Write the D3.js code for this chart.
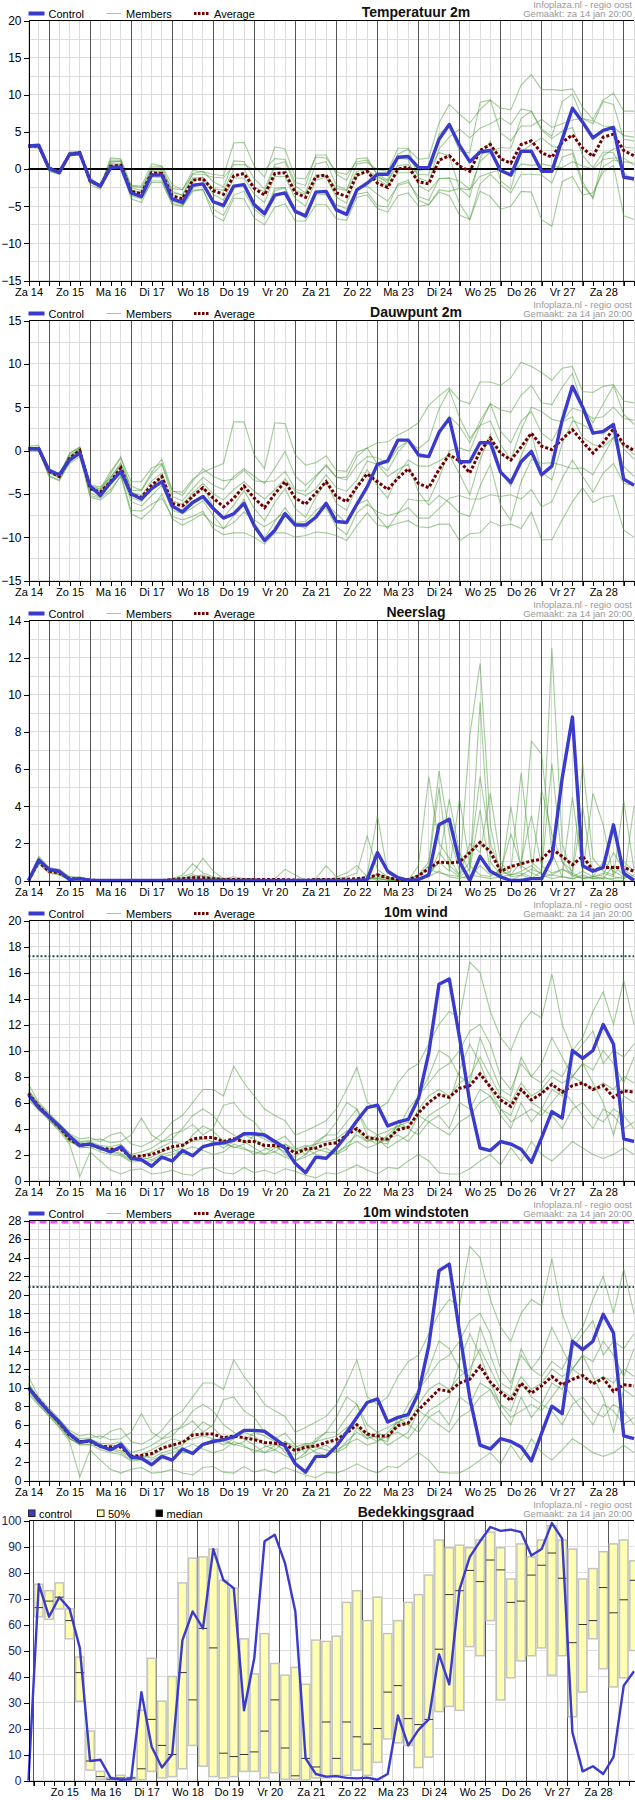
<!DOCTYPE html>
<html>
<head>
<meta charset="utf-8">
<script src="https://cdnjs.cloudflare.com/ajax/libs/d3/7.8.5/d3.min.js"></script>
<style>
  body { margin: 0; background: #fff; }
  svg text { font-family: "Liberation Sans", Arial, sans-serif; }
</style>
</head>
<body>
<svg id="chart"></svg>
<script>
// ---- time axis: 6-hourly steps from Za 14 12:00 ----
const steps = d3.range(60);
const dayLabels = ["Za 14","Zo 15","Ma 16","Di 17","Wo 18","Do 19","Vr 20","Za 21","Zo 22","Ma 23","Di 24","Wo 25","Do 26","Vr 27","Za 28"];

// ---- Temperatuur 2m ----
const tempControl = [3.1,3.2,0.1,-0.5,2.0,2.1,-1.5,-2.3,0.2,0.3, -3.2,-3.7,-0.8,-0.8,-4.0,-4.5,-2.2,-2.0,-4.4,-4.9, -2.3,-2.1,-4.8,-6.0,-3.5,-3.2,-5.7,-6.3,-3.1,-3.0, -5.5,-6.1,-2.8,-1.9,-0.7,-0.7,1.6,1.7,0.2,0.2, 4.0,6.0,3.2,1.0,2.3,2.5,-0.2,-0.8,2.4,2.4, -0.3,-0.3,4.0,8.2,6.3,4.2,5.2,5.6,-1.1,-1.3];
const tempAverage = [3.1,3.1,0.1,-0.4,2.0,2.2,-1.6,-2.3,0.4,0.5, -3.0,-3.3,-0.5,-0.6,-3.6,-4.0,-1.5,-1.3,-2.9,-3.4, -0.9,-0.6,-2.6,-3.5,-0.6,-0.5,-3.2,-3.8,-1.0,-0.8, -3.2,-3.7,-0.8,-0.3,-1.9,-2.5,0.0,0.3,-1.7,-2.0, 1.2,1.8,0.4,-0.3,2.5,3.3,1.4,0.8,3.3,3.8, 2.2,1.6,3.6,4.6,2.8,1.7,4.3,4.7,2.5,1.8];
const tempMembers = [
  [3.2,3.3,0.3,-0.3,2.3,2.4,-1.5,-2.3,1.5,1.4, -2.2,-2.3,0.7,0.4,-2.1,-2.8,-0.2,-0.4,-0.7,-0.9, 3.5,3.6,0.4,-1.1,3.0,2.7,-1.2,-1.3,1.6,1.5, -0.4,-0.7,1.0,1.2,-0.7,-1.5,2.0,2.7,1.3,1.5, 6.2,8.7,7.4,6.2,8.0,9.3,8.2,8.0,11.3,12.7, 10.7,10.7,10.6,10.8,8.3,6.7,9.3,10.2,7.8,7.8],
  [2.9,2.8,-0.3,-0.7,1.7,2.0,-2.1,-2.7,0.0,0.2, -3.6,-4.0,-1.8,-1.8,-4.6,-5.0,-3.0,-2.7,-6.2,-7.0, -3.9,-4.0,-6.6,-7.5,-5.1,-4.7,-7.0,-7.0,-4.8,-4.8, -6.7,-6.9,-3.8,-3.5,-5.3,-5.8,-3.6,-3.2,-5.0,-4.8, -3.1,-3.6,-6.2,-6.8,-3.0,-3.7,-5.4,-5.0,-3.0,-3.1, -6.8,-7.7,-1.7,-1.0,-3.5,-3.2,-0.4,0.5,-6.3,-6.8],
  [3.1,3.2,0.2,-0.2,2.0,2.3,-1.3,-2.1,1.0,1.0, -2.5,-2.9,0.3,0.3,-3.0,-3.5,-0.6,-0.3,-1.7,-2.4, 1.1,1.0,-1.3,-2.7,0.6,1.0,-2.3,-3.2,0.7,1.0, -2.2,-2.8,0.7,0.9,-0.1,-0.3,2.8,2.8,-1.2,-1.7, 2.7,4.3,5.4,4.2,5.5,6.1,6.9,6.0,8.1,7.8, 5.4,4.4,9.1,10.1,6.8,6.1,9.1,8.7,4.0,3.8],
  [3.2,3.1,0.0,-0.6,2.1,2.2,-1.8,-2.4,0.7,0.7, -3.3,-3.7,-1.0,-1.2,-4.3,-4.8,-2.0,-1.9,-4.4,-5.2, -2.4,-1.9,-4.6,-5.9,-2.6,-2.5,-5.5,-6.4,-3.0,-3.0, -4.8,-5.3,-2.6,-2.3,-3.4,-4.3,-2.2,-1.8,-3.7,-4.2, -1.3,-1.2,-1.6,-2.7,-1.0,-0.5,-0.1,-1.0,0.7,0.5, 0.7,0.4,0.2,1.0,0.4,0.0,1.3,1.5,1.5,0.5],
  [3.0,3.1,0.1,-0.3,1.9,2.0,-1.5,-2.1,0.4,0.6, -2.8,-3.2,-0.2,-0.4,-3.2,-3.5,-1.2,-1.1,-2.6,-2.9, -0.1,0.0,-2.4,-3.1,0.3,0.0,-2.9,-3.4,-0.8,-0.8, -2.6,-2.9,-0.3,-0.1,-1.1,-1.6,0.5,0.6,-0.7,-0.8, 4.7,5.8,2.4,2.2,9.0,9.3,4.9,3.8,5.8,5.8, 6.7,5.6,6.1,6.6,6.8,6.5,5.8,5.7,4.5,4.3],
  [3.3,3.2,0.3,-0.3,2.2,2.3,-1.6,-2.2,0.2,0.4, -4.0,-4.5,-1.6,-1.6,-4.8,-5.0,-2.8,-2.8,-5.4,-6.2, -3.5,-3.0,-5.4,-6.5,-2.9,-2.5,-5.7,-6.6,-3.5,-3.4, -5.4,-6.1,-3.4,-3.1,-4.9,-5.1,-2.0,-1.5,-4.2,-4.8, -2.8,-3.0,-2.6,-2.8,1.0,2.3,2.9,2.8,6.8,7.8, 5.2,4.1,5.1,5.6,1.8,0.2,2.3,2.2,-0.5,-1.7],
  [2.9,2.9,-0.2,-0.6,1.8,1.9,-1.8,-2.5,0.9,1.1, -2.3,-2.5,0.0,-0.2,-2.6,-2.8,-0.7,-0.7,-1.1,-1.2, 0.6,0.6,-0.1,-0.1,1.4,1.3,-1.8,-2.2,1.9,1.9, -0.7,-1.5,1.4,1.5,-0.9,-1.9,1.5,1.3,-2.2,-3.0, -1.3,-1.2,-4.6,-6.8,-2.0,-0.7,-2.1,-3.2,-0.7,-0.7, -0.8,-1.9,1.6,2.1,-2.2,-3.8,0.3,1.2,1.0,0.8],
  [3.1,3.2,0.0,-0.4,2.1,2.4,-1.7,-2.2,1.2,1.2, -3.0,-3.5,-0.3,-0.6,-3.9,-4.2,-1.5,-1.2,-3.4,-4.2, -1.2,-1.2,-3.4,-4.5,-1.0,-1.0,-4.0,-5.0,-1.5,-1.1, -3.8,-4.6,-1.0,-0.3,-1.4,-2.2,-0.5,-0.5,-0.2,0.0, 2.2,1.8,-2.6,-3.8,1.5,3.8,-1.6,-2.7,2.3,3.3, 4.2,3.1,2.6,2.6,-1.7,-4.0,1.8,2.7,3.0,2.8]
];

// ---- Dauwpunt 2m ----
const dewControl = [0.2,0.2,-2.3,-2.8,-1.1,-0.3,-4.1,-5.2,-3.7,-2.4, -5.0,-5.6,-4.4,-3.6,-6.4,-7.1,-6.0,-5.3,-6.7,-7.8, -7.3,-6.1,-8.7,-10.4,-9.2,-7.3,-8.6,-8.6,-7.7,-6.1, -8.2,-8.3,-6.2,-4.2,-1.6,-1.2,1.2,1.2,-0.5,-0.7, 2.1,3.7,-1.3,-1.3,0.9,0.9,-2.5,-3.7,-1.3,-0.1, -2.8,-1.8,3.5,7.4,5.0,2.0,2.2,3.0,-3.3,-4.0];
const dewAverage = [0.2,0.2,-2.4,-3.0,-0.9,0.0,-4.4,-4.8,-3.6,-2.0, -5.1,-5.4,-4.0,-3.0,-6.1,-6.4,-5.3,-4.3,-5.5,-6.5, -5.5,-4.1,-5.5,-6.6,-5.0,-3.6,-5.5,-6.2,-4.9,-3.6, -5.3,-5.9,-4.2,-2.7,-3.6,-4.5,-3.2,-2.1,-3.8,-4.3, -2.2,-0.5,-1.2,-2.6,-0.1,1.4,-0.3,-1.1,0.4,2.0, 0.5,0.1,1.3,2.4,1.0,-0.3,0.9,2.5,0.7,0.0];
const dewMembers = [
  [0.5,0.6,-2.2,-3.0,-0.3,0.4,-4.1,-4.4,-2.4,-0.9, -3.6,-3.6,-2.0,-1.5,-4.7,-4.8,-3.3,-2.5,-2.0,-1.5, 3.3,3.3,-0.5,-2.1,3.2,3.1,-0.5,-1.7,-1.4,-0.6, -2.3,-2.4,-0.2,0.3,0.9,1.0,1.8,2.4,3.2,5.2, 6.3,7.2,5.8,5.4,7.9,7.9,7.5,8.4,10.2,9.7, 9.0,8.1,9.5,9.7,6.8,6.7,7.4,7.6,5.7,5.5],
  [-0.1,0.0,-2.9,-3.4,-1.5,-0.7,-5.4,-5.7,-4.8,-2.8, -6.9,-7.0,-6.2,-5.5,-7.6,-8.0,-7.6,-7.0,-9.0,-9.7, -9.5,-9.5,-10.0,-10.8,-9.5,-9.5,-10.0,-9.8,-9.4,-9.5, -9.8,-10.4,-8.7,-7.2,-8.6,-8.8,-8.4,-8.1,-8.8,-8.9, -8.5,-8.5,-10.4,-9.6,-9.5,-8.2,-8.7,-8.5,-9.0,-7.1, -10.3,-10.3,-8.0,-5.9,-4.3,-6.0,-5.4,-5.2,-9.2,-10.0],
  [0.3,0.4,-2.3,-2.7,-0.6,0.2,-4.0,-4.2,-3.1,-1.6, -4.1,-4.6,-2.8,-1.6,-5.3,-5.8,-4.4,-3.1,-4.0,-4.5, -3.0,-2.1,-3.0,-3.8,-2.0,-0.1,-3.0,-4.0,-2.9,-1.8, -3.1,-3.4,-1.7,-0.7,-0.8,-1.5,0.3,1.1,-0.8,-0.8, 1.8,4.0,2.8,0.9,3.4,5.4,4.7,4.4,6.4,7.5, 5.5,5.3,7.3,8.9,5.0,3.2,5.4,7.5,4.2,3.0],
  [0.2,0.1,-2.4,-3.2,-1.2,-0.2,-4.9,-5.4,-3.9,-2.5, -5.9,-6.4,-5.2,-4.0,-6.9,-7.3,-6.6,-5.8,-7.5,-9.0, -8.3,-7.1,-8.0,-8.8,-8.0,-7.1,-8.5,-9.0,-7.4,-6.6, -8.8,-9.7,-7.2,-6.2,-7.1,-7.5,-7.2,-6.6,-7.8,-7.8, -6.7,-5.5,-5.2,-5.6,-5.6,-5.1,-5.3,-5.1,-5.6,-4.5, -6.5,-5.9,-3.2,-1.1,-3.0,-4.8,-2.6,-1.5,-3.8,-4.0],
  [0.4,0.3,-2.1,-2.8,-0.4,0.4,-4.2,-4.5,-3.1,-1.4, -4.8,-5.2,-3.5,-2.6,-5.8,-6.2,-4.9,-3.8,-5.0,-5.7, -4.5,-3.6,-4.7,-5.6,-4.5,-3.3,-4.7,-5.2,-4.4,-2.8, -4.3,-4.7,-3.4,-1.2,-1.6,-2.3,-0.2,1.1,0.2,1.2, 4.8,7.0,3.8,1.4,2.9,5.4,2.2,0.9,3.4,4.5, 2.0,1.1,3.3,4.9,4.5,3.7,3.9,5.0,3.7,3.5],
  [0.0,-0.1,-3.0,-3.5,-1.3,-0.2,-5.2,-5.5,-4.5,-3.0, -7.3,-7.9,-6.8,-5.0,-7.9,-8.6,-8.0,-7.3,-8.5,-9.0, -7.5,-5.6,-8.3,-10.1,-8.2,-6.6,-8.3,-8.2,-6.9,-6.1, -7.3,-8.4,-6.2,-5.7,-7.6,-9.0,-7.2,-5.6,-5.8,-5.8, -3.2,0.0,0.3,-0.1,2.9,3.4,0.7,-1.1,2.4,5.0, 4.5,3.6,3.3,3.9,1.5,0.7,0.4,1.5,0.7,-0.5],
  [0.1,0.2,-2.6,-3.1,-0.8,0.3,-4.2,-4.7,-2.7,-0.7, -4.6,-4.6,-2.5,-1.0,-4.6,-5.2,-3.5,-2.1,-3.0,-3.5, -3.3,-2.3,-3.5,-3.6,-3.5,-2.4,-4.5,-4.7,-3.1,-1.6, -3.1,-3.1,-0.7,0.3,-1.6,-3.0,-2.2,-1.6,-4.8,-6.3, -5.2,-6.0,-7.2,-7.6,-4.1,-1.6,-6.3,-8.1,-3.6,-1.0, -1.5,-1.4,-1.7,-2.1,-2.0,-2.8,-0.6,1.5,-1.8,-3.0],
  [0.3,0.3,-2.2,-3.0,-1.0,0.1,-4.6,-4.8,-3.3,-1.8, -5.4,-5.9,-4.2,-3.0,-6.5,-6.9,-5.3,-4.1,-6.5,-7.7, -6.3,-4.6,-6.7,-8.1,-6.0,-4.4,-6.7,-7.7,-5.4,-3.6, -6.1,-6.9,-4.2,-2.2,-4.1,-5.5,-2.7,-1.1,-1.8,-1.8, -1.2,-0.5,-2.7,-5.1,-1.1,1.9,-2.3,-4.1,-0.6,2.0, -2.5,-3.4,0.8,3.4,3.0,2.2,1.9,3.0,0.2,-1.0]
];

// ---- Neerslag ----
const rainControl = [0,1.1,0.6,0.5,0.05,0.1,0.02,0,0,0, 0,0,0,0,0,0,0,0,0,0, 0,0,0,0,0,0,0,0,0,0, 0,0,0,0.05,1.5,0.5,0.15,0,0.05,0.3, 3.0,3.3,1.0,0,1.3,0.5,0.2,0,0,0.1, 0.1,1.2,5.5,8.8,0.8,0.5,0.7,3.0,0.4,0];
const rainAverage = [0,1.0,0.5,0.4,0.1,0.1,0.02,0,0,0, 0,0,0,0,0.05,0.1,0.15,0.15,0.1,0.05, 0.05,0.05,0.05,0.05,0.05,0.05,0.02,0.02,0.05,0.05, 0.05,0.07,0.1,0.15,0.3,0.15,0.05,0.05,0.25,0.65, 1.0,0.95,1.0,1.5,2.05,1.55,0.5,0.75,0.9,1.05, 1.15,1.7,1.3,0.85,1.3,0.55,0.7,0.7,0.7,0.5];
const rainMembers = [
  [0,1.3,0.7,0.6,0.2,0.2,0,0,0,0, 0,0,0,0,0.1,0.3,0.9,0.4,0.2,0.1, 0,0,0,0,0,0,0,0,0.1,0.1, 0,0.2,0.4,2.4,0.6,0.2,0,0,0.8,5.6, 2.0,1.2,0.3,1.0,5.6,2.0,0.5,0.3,1.0,3.5, 0.8,0.4,0.6,0.3,4.0,0.2,0.3,1.5,0.6,0.2],
  [0,0.9,0.4,0.3,0,0.1,0,0,0,0, 0,0,0,0,0,0,0.2,0.1,0,0, 0,0.1,0.1,0,0,0,0,0,0,0, 0,0,0,0,0.2,0,0,0.1,0.3,1.0, 5.9,2.5,0.5,7.8,11.7,3.0,0.2,0,0.3,0.1, 0.5,12.5,2.0,0.3,0.1,0.2,0.4,0.2,0.1,0.3],
  [0,1.2,0.6,0.4,0.1,0,0,0,0,0, 0,0,0,0,0,0.2,0.4,1.2,0.5,0.1, 0.1,0,0,0,0,0,0,0,0,0, 0.1,0,0,0.3,3.5,0.4,0.1,0,0,0.3, 1.0,4.4,1.5,0.5,9.6,1.0,0.3,0.5,5.8,1.0, 0.5,6.3,1.0,0.2,0.5,0.2,0.1,0.8,0.3,0.1],
  [0,1.0,0.5,0.5,0.2,0.1,0.05,0,0,0, 0,0,0,0,0,0,0,0,0,0, 0,0,0,0,0.1,0.6,0.3,0,0,0, 0.2,0.4,0.8,0.2,0,0.1,0,0,0.3,0.6, 0.4,0.3,0.2,0.6,3.8,0.5,0.1,4.0,0.6,7.5, 6.8,1.5,0.2,0.1,0.3,0.1,0.2,0,0,4.0],
  [0,1.1,0.6,0.3,0.1,0.1,0,0,0,0, 0,0,0,0,0.1,0.1,0.3,0.2,0.1,0.1, 0.2,0.1,0.1,0,0,0,0,0,0,0, 0,0,0,0,0.4,0.1,0,0,0,0.2, 1.5,0.8,0.3,2.0,1.5,4.7,1.0,0.3,0.4,0.2, 4.9,2.5,1.0,0.5,6.3,1.2,0.5,0.3,1.0,0.5],
  [0,0.9,0.4,0.4,0.1,0.1,0,0,0,0, 0,0,0,0,0,0,0.1,0.1,0.1,0, 0,0,0,0,0,0,0,0,0.1,0.8, 0.2,0.1,0,0.1,0.1,0.2,0,0.1,0.1,0.4, 1.0,0.5,4.4,0.8,0.3,0.2,0.6,0.2,0.3,0.6, 0.4,0.3,0.2,4.5,0.4,4.7,3.0,0.2,4.3,0.6],
  [0,1.2,0.5,0.5,0.1,0.1,0,0,0,0, 0,0,0,0,0,0.1,0.2,0.3,0.1,0.1, 0,0,0,0,0,0,0,0,0,0, 0,0,0,0.1,0.3,0.1,0,0,0.2,0.8, 5.0,0.6,0.2,0.1,0.8,0.3,0.5,2.5,0.8,0.4, 0.2,0.3,0.6,0.4,0.1,0.2,1.0,0.5,0.2,0.1],
  [0,1.0,0.6,0.4,0.1,0.1,0,0,0,0, 0,0,0,0,0,0,0,0.1,0,0, 0,0,0,0,0,0,0,0,0,0, 0,0,0.1,0.2,0.1,0,0,0,0.1,0.2, 0.5,0.2,0.1,0.3,0.2,0.1,0.2,0.3,0.5,0.8, 0.3,0.1,0.2,0.1,0.2,0.1,0.1,0.1,0.2,0.1]
];

// ---- 10m wind ----
const windControl = [6.6,5.6,4.9,4.2,3.4,2.7,2.8,2.5,2.2,2.6, 1.7,1.6,1.1,1.8,1.5,2.3,1.9,2.6,2.8,2.9, 3.1,3.6,3.6,3.5,3.0,2.5,1.3,0.6,1.8,1.7, 2.5,3.5,4.6,5.6,5.8,4.2,4.5,4.7,6.3,9.8, 15.1,15.5,11.0,6.0,2.5,2.3,3.0,2.8,2.4,1.4, 3.3,5.3,4.8,10.0,9.4,10.0,12.0,10.5,3.2,3.0];
const windAverage = [6.7,5.7,4.9,4.1,3.2,2.7,2.8,2.5,2.4,2.4, 1.8,1.9,2.0,2.3,2.6,2.7,3.2,3.3,3.3,3.0, 3.2,3.0,3.0,2.7,2.7,2.6,2.1,2.4,2.5,2.8, 2.9,3.5,4.0,3.3,3.2,3.2,3.9,4.1,5.2,6.0, 6.6,6.4,7.1,7.3,8.2,7.2,6.2,5.7,7.0,6.2, 6.7,7.4,6.8,7.3,7.5,7.0,7.3,6.4,6.9,6.8];
const windMembers = [
  [7.4,6.0,5.2,4.4,3.6,3.2,3.3,3.0,3.5,3.7, 2.8,2.6,3.0,3.6,4.5,5.0,6.0,7.0,7.0,6.5, 8.8,7.5,6.5,5.5,5.0,4.6,3.5,3.8,4.2,4.6, 5.5,7.0,8.7,6.0,5.5,6.0,7.5,8.5,9.0,10.5, 12.0,13.0,12.5,16.8,16.0,13.0,11.0,10.0,12.0,13.0, 12.5,15.9,12.0,10.0,11.0,13.0,14.5,12.0,15.4,12.0],
  [6.4,5.5,4.6,3.8,2.8,0.3,2.2,1.5,0.8,0.5, 0.8,0.9,0.5,0.6,0.8,0.5,0.4,0.9,1.0,0.6, 0.5,1.0,0.6,0.8,0.5,0.9,0.7,0.4,0.2,0.6, 0.5,0.8,1.2,0.8,0.5,1.0,0.9,1.5,2.0,1.5, 0.6,0.5,0.5,0.9,1.5,2.0,1.2,2.5,1.5,3.0, 2.0,1.5,2.2,3.0,2.5,2.0,1.7,2.0,2.5,2.0],
  [6.9,5.8,5.0,4.3,3.5,3.0,3.1,3.2,2.9,3.0, 3.5,4.8,3.5,3.0,3.2,4.0,5.0,5.5,5.0,4.0, 3.5,3.0,2.5,2.0,2.2,1.8,1.5,2.0,2.8,3.5, 4.5,6.0,5.5,4.0,3.5,3.0,4.0,5.5,6.5,8.0, 10.0,9.5,8.0,7.5,11.0,9.0,7.0,6.5,9.5,8.0, 9.0,11.0,9.5,8.0,9.0,8.5,10.0,9.0,7.5,9.5],
  [6.5,5.6,4.8,4.0,3.1,2.5,2.6,2.2,2.0,1.9, 1.4,1.5,1.5,1.8,2.0,2.3,2.6,2.3,2.0,2.2, 2.8,2.5,2.0,2.4,2.6,2.2,1.8,2.5,2.0,1.8, 2.2,2.6,3.0,2.5,2.8,3.2,3.5,3.0,4.0,5.0, 5.5,6.0,8.5,10.5,9.0,7.0,5.5,4.5,5.0,5.5, 5.0,6.0,7.0,6.0,5.0,4.0,5.5,5.0,4.0,4.5],
  [7.0,5.9,5.1,4.2,3.3,2.9,3.0,2.7,2.6,2.8, 2.0,2.2,2.5,3.0,3.6,3.8,4.3,3.5,4.0,5.8, 6.0,5.0,4.5,3.5,3.0,3.4,2.5,2.0,3.0,3.5, 3.5,4.5,5.5,3.5,3.0,2.8,4.5,4.0,3.5,4.5, 5.0,4.0,6.0,5.5,7.0,6.5,5.0,4.0,6.0,4.5, 5.5,7.0,6.5,8.0,9.0,7.5,6.0,3.5,6.5,6.0],
  [6.6,5.6,4.8,4.0,3.0,2.6,2.5,2.6,2.2,2.0, 1.5,1.8,1.6,2.0,2.2,2.5,3.5,4.2,3.8,3.0, 2.5,2.8,3.5,3.2,2.8,2.0,1.5,1.8,2.2,2.5, 2.0,2.8,3.5,3.0,3.5,3.8,4.2,4.5,6.5,7.5, 8.5,9.0,10.0,11.5,12.0,10.5,8.0,7.0,9.0,8.0, 7.5,8.5,8.0,9.5,10.5,11.5,9.0,10.0,9.5,10.5],
  [6.8,5.7,4.9,4.1,3.2,2.8,2.9,2.3,2.5,2.4, 1.9,1.6,1.8,2.2,2.5,2.0,2.0,2.5,3.0,2.5, 3.0,3.5,3.2,2.5,2.2,2.8,2.4,2.7,2.4,2.2, 2.0,2.4,3.8,3.0,3.2,2.5,3.0,3.5,5.0,4.5, 4.0,3.5,4.5,5.0,6.0,6.5,5.5,5.0,7.0,6.0, 5.5,5.0,4.0,5.5,6.0,5.0,4.5,5.5,5.0,4.0],
  [6.2,5.4,4.7,3.9,3.0,2.7,2.8,2.4,2.3,2.1, 1.6,1.9,2.2,2.6,3.0,2.8,3.0,3.2,3.0,2.8, 2.6,2.4,2.2,2.0,2.5,2.8,2.2,2.6,2.8,3.0, 3.2,3.8,4.0,3.2,2.8,3.5,4.2,4.0,5.5,6.5, 7.0,6.5,7.5,8.0,9.5,8.0,6.5,6.0,7.5,6.5, 7.0,8.0,7.5,8.0,7.5,7.0,7.5,7.0,8.0,7.5]
];
const windThreshold = 17.25;

// ---- 10m windstoten ----
const gustControl = [10.0,8.6,7.4,6.3,5.0,4.1,4.3,3.7,3.3,3.9, 2.5,2.4,1.7,2.6,2.2,3.4,2.9,3.9,4.2,4.4, 4.7,5.4,5.4,5.3,4.5,3.7,1.8,0.9,2.6,2.6, 3.7,5.2,6.8,8.4,8.8,6.3,6.8,7.1,9.4,14.5, 22.6,23.3,16.0,8.9,3.8,3.4,4.5,4.2,3.6,2.1, 5.1,8.0,7.2,15.0,14.1,15.0,17.9,15.9,4.8,4.5];
const gustAverage = [10.0,8.7,7.4,6.2,4.9,4.2,4.2,3.7,3.6,3.6, 2.6,2.7,2.9,3.5,3.8,4.1,4.9,5.0,5.0,4.6, 4.8,4.6,4.4,4.1,4.0,3.9,3.2,3.6,3.7,4.1, 4.4,5.1,6.0,5.0,4.8,4.8,5.9,6.2,7.6,8.7, 9.8,9.6,10.5,10.9,12.3,10.6,9.5,8.6,10.5,9.4, 10.2,11.2,10.3,10.9,11.3,10.4,11.0,9.6,10.3,10.2];
const gustMembers = [
  [11.2,9.0,7.8,6.6,5.4,4.8,5.0,4.5,5.3,5.6, 4.2,3.9,4.5,5.4,6.8,7.5,9.0,10.5,10.5,9.8, 13.0,11.2,9.8,8.2,7.5,6.9,5.2,5.7,6.3,6.9, 8.2,10.5,13.0,9.0,8.2,9.0,11.2,12.8,13.5,15.8, 18.0,19.5,18.8,25.2,24.0,19.5,16.5,15.0,18.0,19.5, 18.8,23.9,18.0,15.0,16.5,19.5,22.0,18.0,22.8,18.0],
  [9.6,8.2,6.9,5.7,4.2,0.4,3.3,2.2,1.2,0.8, 1.2,1.4,0.8,0.9,1.2,0.8,0.6,1.4,1.5,0.9, 0.8,1.5,0.9,1.2,0.8,1.4,1.0,0.6,0.3,0.9, 0.8,1.2,1.8,1.2,0.8,1.5,1.4,2.2,3.0,2.2, 0.9,0.8,0.8,1.4,2.2,3.0,1.8,3.8,2.2,4.5, 3.0,2.2,3.3,4.5,3.8,3.0,2.6,3.0,3.8,3.0],
  [10.4,8.7,7.5,6.5,5.2,4.5,4.6,4.8,4.4,4.5, 5.2,7.2,5.2,4.5,4.8,6.0,7.5,8.2,7.5,6.0, 5.2,4.5,3.8,3.0,3.3,2.7,2.2,3.0,4.2,5.2, 6.8,9.0,8.2,6.0,5.2,4.5,6.0,8.2,9.8,12.0, 15.0,14.2,12.0,11.2,16.5,13.5,10.5,9.8,14.2,12.0, 13.5,16.5,14.2,12.0,13.5,12.8,15.0,13.5,11.2,14.2],
  [9.8,8.4,7.2,6.0,4.6,3.8,3.9,3.3,3.0,2.8, 2.1,2.2,2.2,2.7,3.0,3.4,3.9,3.4,3.0,3.3, 4.2,3.8,3.0,3.6,3.9,3.3,2.7,3.8,3.0,2.7, 3.3,3.9,4.5,3.8,4.2,4.8,5.2,4.5,6.0,7.5, 8.2,9.0,12.8,15.8,13.5,10.5,8.2,6.8,7.5,8.2, 7.5,9.0,10.5,9.0,7.5,6.0,8.2,7.5,6.0,6.8],
  [10.5,8.8,7.6,6.3,5.0,4.3,4.5,4.0,3.9,4.2, 3.0,3.3,3.8,4.5,5.4,5.7,6.4,5.2,6.0,8.7, 9.0,7.5,6.8,5.2,4.5,5.1,3.8,3.0,4.5,5.2, 5.2,6.8,8.2,5.2,4.5,4.2,6.8,6.0,5.2,6.8, 7.5,6.0,9.0,8.2,10.5,9.8,7.5,6.0,9.0,6.8, 8.2,10.5,9.8,12.0,13.5,11.2,9.0,5.2,9.8,9.0],
  [9.9,8.4,7.2,6.0,4.5,3.9,3.8,3.9,3.3,3.0, 2.2,2.7,2.4,3.0,3.3,3.8,5.2,6.3,5.7,4.5, 3.8,4.2,5.2,4.8,4.2,3.0,2.2,2.7,3.3,3.8, 3.0,4.2,5.2,4.5,5.2,5.7,6.3,6.8,9.8,11.2, 12.8,13.5,15.0,17.2,18.0,15.8,12.0,10.5,13.5,12.0, 11.2,12.8,12.0,14.2,15.8,17.2,13.5,15.0,14.2,15.8],
  [10.2,8.6,7.4,6.2,4.8,4.2,4.4,3.5,3.8,3.6, 2.8,2.4,2.7,3.3,3.8,3.0,3.0,3.8,4.5,3.8, 4.5,5.2,4.8,3.8,3.3,4.2,3.6,4.0,3.6,3.3, 3.0,3.6,5.7,4.5,4.8,3.8,4.5,5.2,7.5,6.8, 6.0,5.2,6.8,7.5,9.0,9.8,8.2,7.5,10.5,9.0, 8.2,7.5,6.0,8.2,9.0,7.5,6.8,8.2,7.5,6.0],
  [9.3,8.1,7.0,5.8,4.5,4.0,4.2,3.6,3.4,3.2, 2.4,2.8,3.3,3.9,4.5,4.2,4.5,4.8,4.5,4.2, 3.9,3.6,3.3,3.0,3.8,4.2,3.3,3.9,4.2,4.5, 4.8,5.7,6.0,4.8,4.2,5.2,6.3,6.0,8.2,9.8, 10.5,9.8,11.2,12.0,14.2,12.0,9.8,9.0,11.2,9.8, 10.5,12.0,11.2,12.0,11.2,10.5,11.2,10.5,12.0,11.2]
];
const gustThreshold = 20.85;
const gustStorm = 27.8;

// ---- Bedekkingsgraad ----
const cloudControl = [0,75.5,63,70.5,66,51,7.5,8,1,0.3, 0.5,34,13,5,10,54,65,58.5,89,77, 74,27,47,92,94.5,83.5,65,8.5,2.5,1.5, 1.7,1.0,0.8,1.1,0.3,2.5,25,13.5,19.5,23.5, 48.5,37,73.5,86,92,97.5,96,96.5,95.5,86.5, 89,99,93,18.5,3.5,5.5,2.5,9,36.5,42];
const cloudLow = [null,63,62,66,54.5,30.5,4,0.5,0,0.5, 0.5,0.3,3.5,1,1.5,4.5,13.5,5.5,1.5,1, 1.5,3.5,3.5,1,3,0.5,0.5,0.3,1,1, 2,2,4,2,7,16,14.5,13.5,5,9, 26.5,28.5,27,51.5,48,61.5,31,39.5,46,48, 51,40.5,48,24.5,34,54.5,43,36,39.5,50];
const cloudHigh = [null,75.5,73,76,66,47.5,19,3.5,1.2,2, 1.2,27,47,30.5,40,76,85.5,86,89,77, 74,54.5,41,56.5,45,40.5,43.5,37,54,53.5, 55.5,68.5,73,61.5,70.5,56.5,61.5,68.5,71.5,79, 92.5,89.5,90.5,89.5,92.5,95.5,89.5,77.5,91,86, 92.5,98,92.5,89,77.5,81.5,88,91,92.5,84.5];
const cloudMedian = [null,66.5,69,70.5,61.5,41.5,7.5,1.5,0.5,1.0, 1.0,4.5,23.5,13.5,10,41.5,31,58.5,51,10.5, 9.2,10,11,19,31,12.5,1.8,8.5,5.2,22.5, 8.5,22.5,16.8,14,20,34,36.5,23.8,21.5,23.5, 50.5,71.5,73,80.8,76.5,84.8,81,68.5,69,79, 82.8,87.5,77.8,53,60,61.5,74.2,64.5,69.5,77];

// ---- layout ----
const PANEL_H = 300;
const X0 = 28.5, X1 = 634, TOP = 20.5, BOT = 280.5;
const COL = { control: "#3a3acc", member: "#4a9c38", average: "#6e0000", grid: "#dcdcdc", day: "#555", thresh: "#244f4f" };

const x = d3.scaleLinear().domain([0, 59]).range([X0, X1]);

const svg = d3.select("#chart").attr("width", 635).attr("height", 1800);

function header(g, title) {
  g.append("text").attr("x", 416).attr("y", 17).attr("text-anchor", "middle")
    .attr("font-size", 14).attr("font-weight", "bold").attr("fill", "#111").text(title);
  g.append("text").attr("x", 632).attr("y", 7.5).attr("text-anchor", "end")
    .attr("font-size", 9.5).attr("fill", "#999").text("Infoplaza.nl - regio oost");
  g.append("text").attr("x", 632).attr("y", 17).attr("text-anchor", "end")
    .attr("font-size", 9.5).attr("fill", "#999").text("Gemaakt: za 14 jan 20:00");
}

function hGrid(g, y, values) {
  g.append("g").attr("shape-rendering", "crispEdges")
    .selectAll("line").data(values).join("line")
    .attr("x1", X0).attr("x2", X1).attr("y1", d => y(d)).attr("y2", d => y(d))
    .attr("stroke", COL.grid);
}

function vLines(g, values, color, extend) {
  g.append("g").attr("shape-rendering", "crispEdges")
    .selectAll("line").data(values).join("line")
    .attr("x1", d => x(d)).attr("x2", d => x(d))
    .attr("y1", TOP).attr("y2", BOT + extend)
    .attr("stroke", color);
}

function axes(g, y, tickVals, xTicks, labelPos, labels, labelColor) {
  g.append("g").attr("transform", `translate(${X0},0)`)
    .call(d3.axisLeft(y).tickValues(tickVals).tickSize(5).tickSizeOuter(0).tickPadding(2))
    .call(a => a.selectAll("text").attr("font-size", 12).attr("fill", labelColor))
    .call(a => a.selectAll("line,path").attr("stroke", "#000").attr("shape-rendering", "crispEdges"));
  g.append("g").attr("transform", `translate(0,${BOT})`)
    .call(d3.axisBottom(x).tickValues(xTicks).tickSize(5).tickSizeOuter(0).tickFormat(""))
    .call(a => a.selectAll("line,path").attr("stroke", "#000").attr("shape-rendering", "crispEdges"));
  g.append("g").attr("transform", `translate(0,${BOT})`)
    .call(d3.axisBottom(x).tickValues(labelPos).tickSize(0).tickPadding(8).tickFormat((d, i) => labels[i]))
    .call(a => a.select(".domain").remove())
    .call(a => a.selectAll("text").attr("font-size", 11).attr("fill", "#000"));
  g.append("line").attr("x1", X0).attr("x2", X1).attr("y1", TOP).attr("y2", TOP)
    .attr("stroke", "#000").attr("shape-rendering", "crispEdges");
}

function ensemblePanel(i, p) {
  const g = svg.append("g").attr("transform", `translate(0,${i * PANEL_H})`);
  const y = d3.scaleLinear().domain(p.domain).range([BOT, TOP]);
  const line = d3.line().x((d, k) => x(k)).y(d => y(d));

  hGrid(g, y, d3.range(p.domain[0], p.domain[1] + 1e-6, p.minor));
  vLines(g, steps, COL.grid, 0);
  vLines(g, d3.range(2, 60, 4), COL.day, 5);

  (p.thresholds || []).forEach(t => {
    g.append("line").attr("x1", X0).attr("x2", X1).attr("y1", y(t.value)).attr("y2", y(t.value))
      .attr("stroke", t.color).attr("stroke-width", t.width).attr("stroke-dasharray", t.dash);
  });

  g.append("g").selectAll("path").data(p.members).join("path")
    .attr("d", line).attr("fill", "none")
    .attr("stroke", COL.member).attr("stroke-opacity", 0.5).attr("stroke-width", 1.1);

  if (p.zero) {
    g.append("line").attr("x1", X0).attr("x2", X1).attr("y1", y(0)).attr("y2", y(0))
      .attr("stroke", "#000").attr("stroke-width", 2);
  }

  g.append("path").datum(p.average).attr("d", line).attr("fill", "none")
    .attr("stroke", COL.average).attr("stroke-width", 3).attr("stroke-dasharray", "3,2");
  g.append("path").datum(p.control).attr("d", line).attr("fill", "none")
    .attr("stroke", COL.control).attr("stroke-width", 3.4).attr("stroke-linejoin", "round");

  axes(g, y, d3.range(p.domain[0], p.domain[1] + 1e-6, p.major), steps,
       d3.range(0, 60, 4), dayLabels, "#000");

  // legend
  const lg = g.append("g");
  lg.append("line").attr("x1", 28.5).attr("x2", 44.5).attr("y1", 13.5).attr("y2", 13.5)
    .attr("stroke", COL.control).attr("stroke-width", 4);
  lg.append("text").attr("x", 48.5).attr("y", 17.5).attr("font-size", 11).text("Control");
  lg.append("line").attr("x1", 106.5).attr("x2", 121).attr("y1", 13.5).attr("y2", 13.5)
    .attr("stroke", "#9ccf8e").attr("stroke-width", 1);
  lg.append("text").attr("x", 126).attr("y", 17.5).attr("font-size", 11).text("Members");
  lg.append("line").attr("x1", 194).attr("x2", 209).attr("y1", 13.5).attr("y2", 13.5)
    .attr("stroke", COL.average).attr("stroke-width", 3).attr("stroke-dasharray", "2.5,1.5");
  lg.append("text").attr("x", 214).attr("y", 17.5).attr("font-size", 11).text("Average");

  header(g, p.title);
}

const ensemblePanels = [
  { title: "Temperatuur 2m", domain: [-15, 20], major: 5, minor: 2.5, control: tempControl, average: tempAverage, members: tempMembers, zero: true },
  { title: "Dauwpunt 2m", domain: [-15, 15], major: 5, minor: 2.5, control: dewControl, average: dewAverage, members: dewMembers },
  { title: "Neerslag", domain: [0, 14], major: 2, minor: 1, control: rainControl, average: rainAverage, members: rainMembers },
  { title: "10m wind", domain: [0, 20], major: 2, minor: 1, control: windControl, average: windAverage, members: windMembers,
    thresholds: [{ value: windThreshold, color: COL.thresh, width: 2, dash: "2,2" }] },
  { title: "10m windstoten", domain: [0, 28], major: 2, minor: 1, control: gustControl, average: gustAverage, members: gustMembers,
    thresholds: [{ value: gustThreshold, color: COL.thresh, width: 2, dash: "2,2" },
                 { value: gustStorm, color: "#ff44ff", width: 2.5, dash: "7,4" }] }
];
ensemblePanels.forEach((p, i) => ensemblePanel(i, p));

// ---- cloud cover panel ----
(function cloudPanel() {
  const g = svg.append("g").attr("transform", `translate(0,${5 * PANEL_H})`);
  const y = d3.scaleLinear().domain([0, 100]).range([BOT, TOP]);
  const halfSteps = d3.range(0.5, 59, 1);

  hGrid(g, y, d3.range(0, 101, 10));
  vLines(g, halfSteps, COL.grid, 0);
  vLines(g, d3.range(0.5, 59, 4), COL.day, 5);

  const boxes = steps.filter(k => cloudLow[k] != null);
  const bw = 8.4;
  g.append("g").selectAll("rect").data(boxes).join("rect")
    .attr("x", k => x(k) - bw / 2).attr("width", bw)
    .attr("y", k => y(cloudHigh[k])).attr("height", k => y(cloudLow[k]) - y(cloudHigh[k]))
    .attr("fill", "#ffffb2").attr("stroke", "#c4c4c4").attr("stroke-width", 1.5);
  g.append("g").selectAll("line").data(boxes).join("line")
    .attr("x1", k => x(k) - bw / 2).attr("x2", k => x(k) + bw / 2)
    .attr("y1", k => y(cloudMedian[k])).attr("y2", k => y(cloudMedian[k]))
    .attr("stroke", "#333").attr("stroke-width", 1);

  g.append("path").datum(cloudControl)
    .attr("d", d3.line().x((d, k) => x(k)).y(d => y(d)))
    .attr("fill", "none").attr("stroke", COL.control).attr("stroke-width", 2.4).attr("stroke-linejoin", "round");

  axes(g, y, d3.range(0, 101, 10), halfSteps, d3.range(3.5, 59, 4), dayLabels.slice(1), "#1e1e5a");

  const lg = g.append("g");
  const items = [
    { x: 28.5, fill: COL.control, label: "control" },
    { x: 97.5, fill: "#ffffb2", label: "50%" },
    { x: 156, fill: "#000", label: "median" }
  ];
  items.forEach(it => {
    lg.append("rect").attr("x", it.x).attr("y", 10).attr("width", 6.5).attr("height", 6.5)
      .attr("fill", it.fill).attr("stroke", "#222").attr("stroke-width", 1);
    lg.append("text").attr("x", it.x + 10.5).attr("y", 17.5).attr("font-size", 11).text(it.label);
  });

  header(g, "Bedekkingsgraad");
})();
</script>
</body>
</html>
